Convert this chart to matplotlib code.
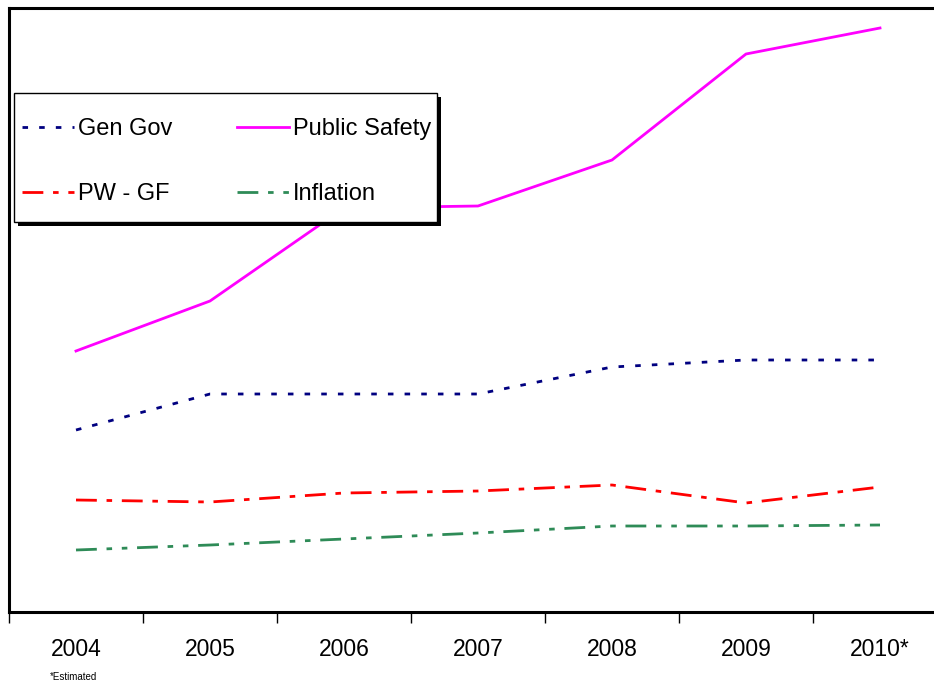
import numpy as np
import matplotlib
matplotlib.use("Agg")
import matplotlib.pyplot as plt
from matplotlib.patches import Rectangle
from matplotlib.lines import Line2D

plt.rcParams['font.family'] = ['Liberation Sans', 'DejaVu Sans']

years = ["2004", "2005", "2006", "2007", "2008", "2009", "2010*"]
gen_gov = [182, 218, 218, 218, 245, 252, 252]
public_safety = [261, 311, 404, 406, 452, 558, 584]
pw_gf = [112, 110, 119, 121, 127, 109, 125]
inflation = [62, 67, 73, 79, 86, 86, 87]

W, H = 934, 686
fig = plt.figure(figsize=(W / 100, H / 100), dpi=100)
# plot area runs off the right edge of the page
ax = fig.add_axes([9 / W, 74 / H, 938 / W, 604 / H])

x = np.arange(len(years))
styles = {
    "Gen Gov": (gen_gov, "#000080", (0, (2, 4))),
    "Public Safety": (public_safety, "#FF00FF", "-"),
    "PW - GF": (pw_gf, "#FF0000", (0, (7.5, 3.5, 2, 3.5))),
    "Inflation": (inflation, "#2E8B57", (0, (7.5, 3.5, 2, 3.5, 2, 3.5))),
}
handles = {}
for label, (vals, col, ls) in styles.items():
    ax.plot(x, vals, color=col, lw=2.0, linestyle=ls, zorder=3)
    handles[label] = Line2D([], [], color=col, lw=2.0, linestyle=ls, label=label)

ax.set_xlim(-0.5, len(years) - 0.5)
ax.set_ylim(0, 604)
ax.set_yticks([])

# category boundaries get the tick marks, labels sit at the centres
ax.set_xticks(np.arange(-0.5, len(years), 1.0))
ax.set_xticklabels([])
ax.tick_params(axis="x", which="major", direction="out", length=8, width=1, color="black")
ax.set_xticks(x, minor=True)
ax.set_xticklabels(years, minor=True, fontsize=16.5)
ax.tick_params(axis="x", which="minor", length=0, pad=19)

for side in ("left", "top", "bottom"):
    ax.spines[side].set_linewidth(2.2)
    ax.spines[side].set_color("black")
ax.spines["right"].set_visible(False)

# legend box with a hard black drop shadow
bx0, by0, bx1, by1 = 14, 93, 437, 222
fig.patches.append(Rectangle(((bx0 + 4) / W, 1 - (by1 + 4) / H), (bx1 - bx0) / W, (by1 - by0) / H,
                             transform=fig.transFigure, facecolor="black", edgecolor="none", zorder=5))
fig.patches.append(Rectangle((bx0 / W, 1 - by1 / H), (bx1 - bx0) / W, (by1 - by0) / H,
                             transform=fig.transFigure, facecolor="white", edgecolor="black",
                             lw=1, zorder=6))
# legend fills column by column, so list it so rows read Gen Gov / Public Safety
order = ["Gen Gov", "PW - GF", "Public Safety", "Inflation"]
leg = fig.legend(handles=[handles[k] for k in order], loc="upper left",
                 bbox_to_anchor=(22 / W, 1 - 118 / H),
                 bbox_transform=fig.transFigure, ncol=2, frameon=False, fontsize=17,
                 handlelength=2.2, handletextpad=0.17, columnspacing=2.72, labelspacing=1.83,
                 borderpad=0, borderaxespad=0)
leg.set_zorder(7)

fig.text(50 / W, 1 - 677 / H, "*Estimated", fontsize=7, va="center", ha="left")

fig.savefig("out.png", dpi=100)
